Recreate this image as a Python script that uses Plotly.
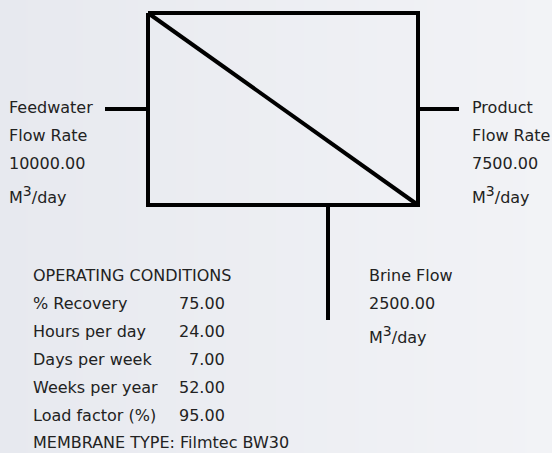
import plotly.graph_objects as go

# ---- data ----
UNIT = 'M<sup><span style="font-size:14px">3</span></sup>/day'
feed_labels = ["Feedwater", "Flow Rate", "10000.00", UNIT]
product_labels = ["Product", "Flow Rate", "7500.00", UNIT]
brine_labels = ["Brine Flow", "2500.00", UNIT]
cond_title = "OPERATING CONDITIONS"
cond_names = ["% Recovery", "Hours per day", "Days per week", "Weeks per year", "Load factor (%)"]
cond_values = ["75.00", "24.00", "7.00", "52.00", "95.00"]
membrane = "MEMBRANE TYPE: Filmtec BW30"

# diagram geometry (pixel space)
box_x = [148, 418, 418, 148, 148]
box_y = [13, 13, 205, 205, 13]
diag_x = [148, 418]
diag_y = [13, 205]
feed_x = [105, 148]
feed_y = [109, 109]
prod_x = [418, 459]
prod_y = [109, 109]
brine_x = [328, 328]
brine_y = [205, 320]

W, H = 552, 453
FONT = "DejaVu Sans"
FS = 16
COL = "#222222"

fig = go.Figure()
# subtle left-to-right background gradient
fig.add_trace(go.Heatmap(x=[0, W], y=[0, H], z=[[0, 1], [0, 1]],
                         colorscale=[[0, "#e7e9ef"], [1, "#f2f3f6"]],
                         zsmooth="best", showscale=False, hoverinfo="skip"))
line_style = dict(color="black", width=4)
for xs, ys in [(box_x, box_y), (diag_x, diag_y), (feed_x, feed_y),
               (prod_x, prod_y), (brine_x, brine_y)]:
    fig.add_trace(go.Scatter(x=xs, y=ys, mode="lines", line=line_style,
                             hoverinfo="skip", showlegend=False))

ann = []
def txt(x, y, t, anchor="left"):
    ann.append(dict(x=x, y=y, text=t, showarrow=False, xanchor=anchor,
                    yanchor="middle", xref="x", yref="y",
                    font=dict(family=FONT, size=FS, color=COL)))

feed_y_pos = [107, 135, 163, 195]
for t, y in zip(feed_labels, feed_y_pos):
    txt(7, y, t)
for t, y in zip(product_labels, feed_y_pos):
    txt(470, y, t)
brine_y_pos = [275, 303, 335]
for t, y in zip(brine_labels, brine_y_pos):
    txt(367, y, t)

txt(31, 275, cond_title)
for i, (n, v) in enumerate(zip(cond_names, cond_values)):
    y = 303 + 28 * i
    txt(31, y, n)
    txt(227, y, v, anchor="right")
txt(31, 442, membrane)

fig.update_layout(
    width=W, height=H,
    margin=dict(l=0, r=0, t=0, b=0),
    paper_bgcolor="#eceef2", plot_bgcolor="#eceef2",
    xaxis=dict(range=[0, W], visible=False, fixedrange=True),
    yaxis=dict(range=[H, 0], visible=False, fixedrange=True),
    annotations=ann,
)
fig.write_html("out.html", config={"displayModeBar": False},
               post_script="document.body.style.margin='0';document.body.style.overflow='hidden';")
